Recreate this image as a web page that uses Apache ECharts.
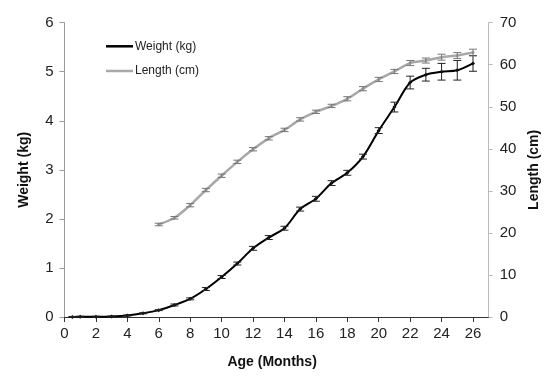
<!DOCTYPE html>
<html>
<head>
<meta charset="utf-8">
<script src="https://cdn.jsdelivr.net/npm/echarts@6/dist/echarts.min.js"></script>
<style>
html,body{margin:0;padding:0;background:#fff;}
#chart{width:556px;height:380px;}
</style>
</head>
<body>
<div id="chart"></div>
<script>
var weightMonths = [0.5,1,2,3,4,5,6,7,8,9,10,11,12,13,14,15,16,17,18,19,20,21,22,23,24,25,26];
var weightValues = [0.0,0.005,0.005,0.01,0.03,0.075,0.14,0.245,0.37,0.57,0.815,1.09,1.40,1.62,1.81,2.20,2.41,2.73,2.94,3.27,3.80,4.28,4.78,4.94,5.00,5.03,5.17];
var weightErr = [0.01,0.01,0.01,0.01,0.01,0.01,0.01,0.02,0.02,0.03,0.03,0.03,0.04,0.04,0.04,0.04,0.05,0.05,0.05,0.05,0.06,0.10,0.13,0.13,0.17,0.20,0.16];

var lengthMonths = [6,7,8,9,10,11,12,13,14,15,16,17,18,19,20,21,22,23,24,25,26];
var lengthValues = [22.0,23.6,26.6,30.2,33.6,36.9,39.9,42.5,44.5,47.0,48.8,50.2,51.9,54.3,56.5,58.4,60.4,61.0,61.8,62.2,62.9];
var lengthErr = [0.3,0.3,0.4,0.4,0.4,0.4,0.4,0.4,0.4,0.4,0.4,0.4,0.5,0.5,0.5,0.5,0.6,0.6,0.7,0.7,0.8];

var xTicks = {min:0, max:27, interval:2};
var yLeftTicks = {min:0, max:6, interval:1};
var yRightTicks = {min:0, max:70, interval:10};

function pairs(xs, ys){ return xs.map(function(x,i){ return [x, ys[i]]; }); }
function errs(xs, ys, es){ return xs.map(function(x,i){ return [x, ys[i]-es[i], ys[i]+es[i]]; }); }

function errRender(color){
  return function(params, api){
    var x = api.value(0), lo = api.value(1), hi = api.value(2);
    var pHi = api.coord([x, hi]), pLo = api.coord([x, lo]);
    var w = 4;
    var st = {stroke: color, lineWidth: 1};
    return {type:'group', children:[
      {type:'line', shape:{x1:pHi[0], y1:pHi[1], x2:pLo[0], y2:pLo[1]}, style:st},
      {type:'line', shape:{x1:pHi[0]-w, y1:pHi[1], x2:pHi[0]+w, y2:pHi[1]}, style:st},
      {type:'line', shape:{x1:pLo[0]-w, y1:pLo[1], x2:pLo[0]+w, y2:pLo[1]}, style:st}
    ]};
  };
}

var FONT = 'Liberation Sans, Arial, sans-serif';
var chart = echarts.init(document.getElementById('chart'), null, {renderer:'canvas'});
chart.setOption({
  animation: false,
  backgroundColor: '#fff',
  textStyle: {fontFamily: FONT},
  legend: {
    data: [{name:'Weight (kg)', icon:'rect'}, {name:'Length (cm)', icon:'rect'}],
    orient: 'vertical',
    left: 101, top: 34.3,
    itemWidth: 27, itemHeight: 2.5, itemGap: 10.7,
    textStyle: {fontSize: 12, color: '#222', fontFamily: FONT, padding:[0,0,0,-3], lineHeight: 14}
  },
  grid: {left: 64.5, right: 67.3, top: 22.7, bottom: 63},
  xAxis: {
    type: 'value', min: xTicks.min, max: xTicks.max, interval: xTicks.interval,
    name: 'Age (Months)', nameLocation: 'middle', nameGap: 38,
    nameTextStyle: {fontSize: 14, fontWeight: 'bold', color: '#111', fontFamily: FONT, padding:[0,9,0,0]},
    axisLine: {show: true, lineStyle: {color: '#333', width: 1}},
    axisTick: {show: true, inside: false, length: 5, lineStyle: {color: '#333'}},
    axisLabel: {fontSize: 15, color: '#222', margin: 9, showMaxLabel: false, fontFamily: FONT},
    splitLine: {show: false}
  },
  yAxis: [{
    type: 'value', min: yLeftTicks.min, max: yLeftTicks.max, interval: yLeftTicks.interval,
    position: 'left',
    name: 'Weight (kg)', nameLocation: 'middle', nameGap: 33, nameRotate: 90,
    nameTextStyle: {fontSize: 14, fontWeight: 'bold', color: '#111', fontFamily: FONT},
    axisLine: {show: true, lineStyle: {color: '#999', width: 1}},
    axisTick: {show: true, length: 5, lineStyle: {color: '#999'}},
    axisLabel: {fontSize: 15, color: '#222', margin: 11, fontFamily: FONT},
    splitLine: {show: false}
  }, {
    type: 'value', min: yRightTicks.min, max: yRightTicks.max, interval: yRightTicks.interval,
    position: 'right',
    name: 'Length (cm)', nameLocation: 'middle', nameGap: 35, nameRotate: 90,
    nameTextStyle: {fontSize: 14, fontWeight: 'bold', color: '#111', fontFamily: FONT},
    axisLine: {show: true, lineStyle: {color: '#bbb', width: 1}},
    axisTick: {show: true, length: 4, lineStyle: {color: '#bbb'}},
    axisLabel: {fontSize: 15, color: '#222', margin: 11, fontFamily: FONT},
    splitLine: {show: false}
  }],
  series: [{
    name: 'Weight (kg)', type: 'line', yAxisIndex: 0,
    data: pairs(weightMonths, weightValues),
    smooth: 0.3, symbol: 'diamond', symbolSize: 4,
    lineStyle: {color: '#000', width: 2},
    itemStyle: {color: '#000'},
    z: 3
  }, {
    name: 'Length (cm)', type: 'line', yAxisIndex: 1,
    data: pairs(lengthMonths, lengthValues),
    smooth: 0.3, symbol: 'diamond', symbolSize: 4,
    lineStyle: {color: '#a8a8a8', width: 2.5},
    itemStyle: {color: '#a8a8a8'},
    z: 2
  }, {
    type: 'custom', yAxisIndex: 0,
    data: errs(weightMonths, weightValues, weightErr),
    encode: {x: 0, y: [1, 2]},
    renderItem: errRender('#222'),
    z: 4, silent: true
  }, {
    type: 'custom', yAxisIndex: 1,
    data: errs(lengthMonths, lengthValues, lengthErr),
    encode: {x: 0, y: [1, 2]},
    renderItem: errRender('#777'),
    z: 4, silent: true
  }]
});
</script>
</body>
</html>
